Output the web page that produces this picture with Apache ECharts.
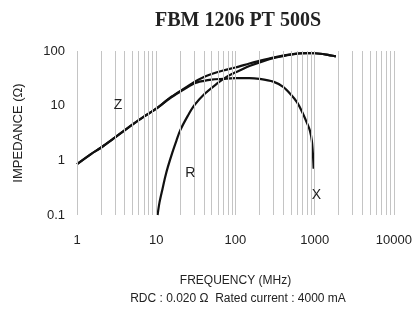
<!DOCTYPE html>
<html>
<head>
<meta charset="utf-8">
<script src="https://cdn.jsdelivr.net/npm/echarts@6/dist/echarts.min.js"></script>
<style>
	html, body { margin: 0; padding: 0; background: #fff; }
	#main { width: 415px; height: 309px; }
</style>
</head>
<body>
<div id="main"></div>
<script>
// impedance curves (MHz / ohm)
var zFreq = [1, 1.5, 2, 3, 5, 7, 10, 15, 20, 30, 40, 50, 70, 100, 150, 200, 300, 500, 700, 1000, 1400, 1850];
var zVal  = [0.85, 1.3, 1.7, 2.6, 4.5, 6.3, 8.8, 14, 18.5, 27, 33.5, 38, 44, 50, 59, 66, 76, 87, 91, 91, 86, 80];

var xFreq = [1, 1.5, 2, 3, 5, 7, 10, 15, 20, 30, 40, 50, 70, 100, 150, 200, 300, 400, 500, 600, 700, 800, 870, 920, 950, 970];
var xVal  = [0.85, 1.3, 1.7, 2.6, 4.5, 6.3, 8.8, 13.8, 18, 25.5, 28.5, 30, 31, 32, 32, 31, 27.5, 22, 16, 11.5, 7.5, 4.8, 3.5, 2.3, 1.3, 0.7];

var rFreq = [10.4, 11, 12, 13, 14, 16, 18, 20, 25, 30, 40, 60, 73, 90, 120, 150, 230, 300, 500, 800, 1000, 1400, 1850];
var rVal  = [0.1, 0.17, 0.3, 0.5, 0.75, 1.4, 2.3, 3.5, 6.5, 10, 16, 26, 32, 38, 46, 53, 66, 74, 86, 91.5, 91, 86, 80];

var xTicks = ["1", "10", "100", "1000", "10000"];
var yTicks = ["0.1", "1", "10", "100"];

// vertical grid lines: 1..9 in each decade
var decades = [1, 10, 100, 1000];
var multipliers = [1, 2, 3, 4, 5, 6, 7, 8, 9];

var labelAt = { Z: [3.3, 10.4], X: [1050, 0.23], R: [27, 0.58] };

var pairs = function( fs, vs ){
	var out = [];
	for( var i = 0; i < fs.length; ++i ) out.push( [ fs[ i ], vs[ i ] ] );
	return out;
};

var gridLines = [];
decades.forEach(function( d ){
	multipliers.forEach(function( m ){ gridLines.push( { xAxis: d * m } ); });
});
gridLines.push( { xAxis: 10000 } );

var TXT = "#222";
var FONT = "Liberation Sans";

var tickText = function( list ){
	return function( v ){
		var l = Math.round( Math.log( v ) / Math.LN10 );
		for( var i = 0; i < list.length; ++i ){
			if( Math.round( Math.log( parseFloat( list[ i ] ) ) / Math.LN10 ) === l ) return list[ i ];
		}
		return "";
	};
};

var curve = function( name, data, extra ){
	var s = {
		name: name,
		type: "line",
		data: data,
		smooth: 0.3,
		symbol: "none",
		lineStyle: { color: "#111", width: 2.2 },
		markPoint: {
			symbol: "circle",
			symbolSize: 0,
			label: { show: true, position: "inside", formatter: name, color: TXT, fontSize: 14, fontFamily: FONT },
			data: [ { coord: labelAt[ name ] } ]
		},
		z: 3
	};
	if( extra ) for( var k in extra ) s[ k ] = extra[ k ];
	return s;
};

var myChart = echarts.init( document.getElementById( "main" ) );

var option = {
	animation: false,
	title: [
		{
			text: "FBM 1206 PT 500S",
			left: 233, top: 6, textAlign: "center",
			textStyle: { fontFamily: "Liberation Serif", fontWeight: "bold", fontSize: 20, color: "#222" }
		},
		{
			text: "RDC : 0.020 \u03A9  Rated current : 4000 mA",
			left: 233, top: 288, textAlign: "center",
			textStyle: { fontFamily: FONT, fontWeight: "normal", fontSize: 12, color: TXT }
		}
	],
	grid: { left: 77, right: 20, top: 51, bottom: 94 },
	xAxis: {
		type: "log",
		min: 1, max: 10000, logBase: 10,
		name: "FREQUENCY (MHz)",
		nameLocation: "middle",
		nameGap: 60,
		nameTextStyle: { fontFamily: FONT, fontSize: 12, color: TXT },
		axisLine: { show: false },
		axisTick: { show: false },
		splitLine: { show: false },
		axisLabel: { fontFamily: FONT, fontSize: 13, color: TXT, margin: 19, formatter: tickText( xTicks ) }
	},
	yAxis: {
		type: "log",
		min: 0.1, max: 100, logBase: 10,
		name: "IMPEDANCE (\u03A9)",
		nameLocation: "middle",
		nameGap: 52,
		nameTextStyle: { fontFamily: FONT, fontSize: 13, color: TXT },
		axisLine: { show: false },
		axisTick: { show: false },
		splitLine: { show: false },
		axisLabel: { fontFamily: FONT, fontSize: 13, color: TXT, margin: 12, formatter: tickText( yTicks ) }
	},
	series: [
		curve( "Z", pairs( zFreq, zVal ), {
			markLine: {
				silent: true,
				symbol: [ "none", "none" ],
				label: { show: false },
				lineStyle: { color: "#c4c4c4", width: 1, type: "solid" },
				data: gridLines
			}
		}),
		curve( "X", pairs( xFreq, xVal ) ),
		curve( "R", pairs( rFreq, rVal ) )
	]
};

if( option && typeof option === "object" ) myChart.setOption( option, true );
</script>
</body>
</html>
